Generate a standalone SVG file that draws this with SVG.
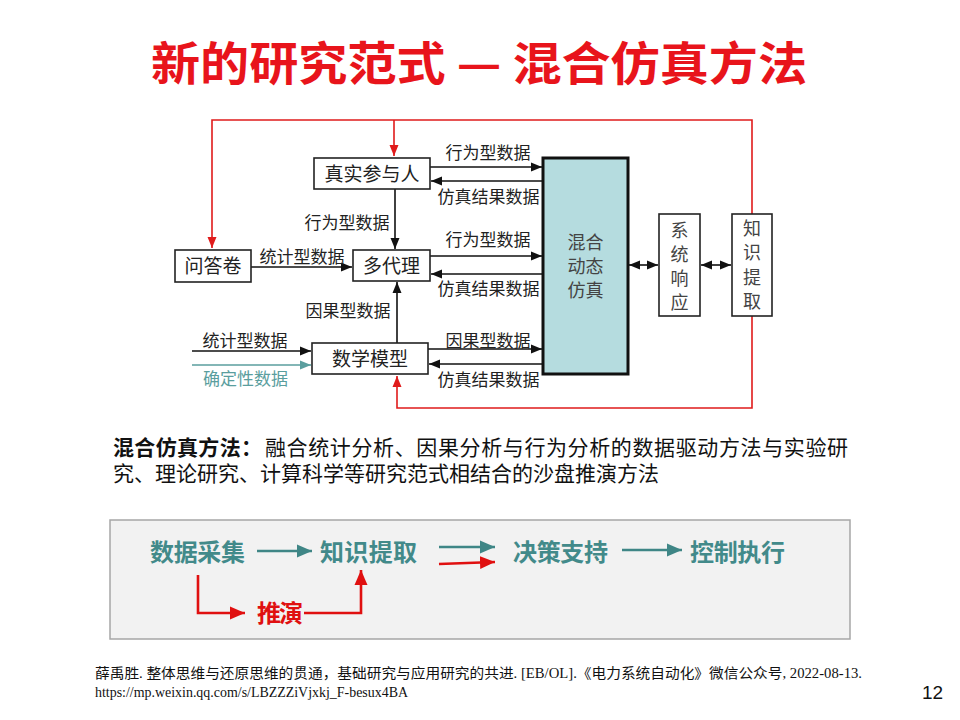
<svg xmlns="http://www.w3.org/2000/svg" width="960" height="720" viewBox="0 0 960 720">
<defs>
<marker id="ab" markerUnits="userSpaceOnUse" markerWidth="12" markerHeight="10" refX="11" refY="5" orient="auto-start-reverse"><path d="M0,0.5 L11,5 L0,9.5 Z" fill="#111"/></marker>
<marker id="ar" markerUnits="userSpaceOnUse" markerWidth="12" markerHeight="10" refX="11" refY="5" orient="auto-start-reverse"><path d="M0,0.5 L11,5 L0,9.5 Z" fill="#e01b1b"/></marker>
<marker id="at" markerUnits="userSpaceOnUse" markerWidth="12" markerHeight="10" refX="11" refY="5" orient="auto-start-reverse"><path d="M0,0.5 L11,5 L0,9.5 Z" fill="#5a9e9e"/></marker>
<marker id="at2" markerUnits="userSpaceOnUse" markerWidth="16" markerHeight="14" refX="15" refY="7" orient="auto"><path d="M0,0.5 L15,7 L0,13.5 Z" fill="#3f8686"/></marker>
<marker id="ar2" markerUnits="userSpaceOnUse" markerWidth="16" markerHeight="14" refX="15" refY="7" orient="auto"><path d="M0,0.5 L15,7 L0,13.5 Z" fill="#e01010"/></marker>
</defs>
<style>
.cjk{font-family:"Noto Sans CJK SC","Liberation Sans",sans-serif}
.box{fill:#fff;stroke:#222;stroke-width:1.6}
.bl{font-size:19px;fill:#222;text-anchor:middle}
.el{font-size:17px;fill:#222;text-anchor:middle}
.ln{fill:none;stroke:#111;stroke-width:1.6}
.red{fill:none;stroke:#e01b1b;stroke-width:1.6}
.tl{fill:none;stroke:#3f8686;stroke-width:2.6}
.rl{fill:none;stroke:#e01010;stroke-width:2.6}
.bt{font-size:24px;font-weight:700;fill:#428a8a}
.vt{font-size:18px;fill:#444;text-anchor:middle}
.ds{font-size:21px;fill:#111}
.ft{font-family:"Liberation Serif","Noto Sans CJK SC",serif;font-size:14px;fill:#111}
</style>
<rect width="960" height="720" fill="#fff"/>
<text class="cjk" x="479" y="80" font-size="46" font-weight="700" fill="#e8141b" text-anchor="middle" textLength="656" lengthAdjust="spacingAndGlyphs">新的研究范式 — 混合仿真方法</text>

<g id="connectors">
<path class="red" d="M752,214 V120 H212 V248" marker-end="url(#ar)"/>
<path class="red" d="M394,120 V156" marker-end="url(#ar)"/>
<path class="red" d="M752,316 V408 H397 V376" marker-end="url(#ar)"/>
<path class="ln" d="M430,167 H542" marker-end="url(#ab)"/>
<path class="ln" d="M543,181 H431" marker-end="url(#ab)"/>
<path class="ln" d="M395,189 V249" marker-end="url(#ab)"/>
<path class="ln" d="M251,267 H352" marker-end="url(#ab)"/>
<path class="ln" d="M430,256 H542" marker-end="url(#ab)"/>
<path class="ln" d="M543,274 H431" marker-end="url(#ab)"/>
<path class="ln" d="M397,343 V282" marker-end="url(#ab)"/>
<path class="ln" d="M192,351 H311" marker-end="url(#ab)"/>
<path d="M192,365 H311" fill="none" stroke="#5a9e9e" stroke-width="1.6" marker-end="url(#at)"/>
<path class="ln" d="M428,349 H542" marker-end="url(#ab)"/>
<path class="ln" d="M543,364 H429" marker-end="url(#ab)"/>
<path class="ln" d="M629,265 H658" marker-start="url(#ab)" marker-end="url(#ab)"/>
<path class="ln" d="M701,265 H731" marker-start="url(#ab)" marker-end="url(#ab)"/>
<g class="cjk">
<text class="el" x="488" y="158.5">行为型数据</text>
<text class="el" x="488.5" y="202.5">仿真结果数据</text>
<text class="el" x="347" y="228.5">行为型数据</text>
<text class="el" x="302" y="262.5">统计型数据</text>
<text class="el" x="488" y="245.5">行为型数据</text>
<text class="el" x="488.5" y="294.5">仿真结果数据</text>
<text class="el" x="348" y="316.5">因果型数据</text>
<text class="el" x="245" y="346.5">统计型数据</text>
<text class="el" x="245.5" y="384.5" style="fill:#5a9e9e">确定性数据</text>
<text class="el" x="488" y="346.5">因果型数据</text>
<text class="el" x="488.5" y="385.5">仿真结果数据</text>
</g>
</g>

<g id="zhenshi" class="cjk"><rect class="box" x="314" y="158" width="116" height="31"/><text class="bl" x="372" y="180.5">真实参与人</text></g>
<g id="wenjuan" class="cjk"><rect class="box" x="175" y="250" width="76" height="32"/><text class="bl" x="213" y="273">问答卷</text></g>
<g id="duodaili" class="cjk"><rect class="box" x="353" y="250" width="77" height="31"/><text class="bl" x="391.5" y="272.5">多代理</text></g>
<g id="shuxue" class="cjk"><rect class="box" x="312" y="343" width="116" height="31"/><text class="bl" x="370" y="365.5">数学模型</text></g>
<g id="hunhe" class="cjk"><rect x="543" y="158" width="85" height="216" fill="#b5dcdf" stroke="#111" stroke-width="3"/>
<text class="vt" x="585.5" y="249">混合</text><text class="vt" x="585.5" y="273">动态</text><text class="vt" x="585.5" y="297">仿真</text></g>
<g id="xitong" class="cjk"><rect class="box" x="659" y="214" width="41" height="102"/>
<text class="vt" x="679.5" y="237">系</text><text class="vt" x="679.5" y="261">统</text><text class="vt" x="679.5" y="285">响</text><text class="vt" x="679.5" y="309">应</text></g>
<g id="zhishi" class="cjk"><rect class="box" x="732" y="214" width="40" height="102"/>
<text class="vt" x="752" y="235">知</text><text class="vt" x="752" y="259">识</text><text class="vt" x="752" y="284">提</text><text class="vt" x="752" y="308">取</text></g>

<text class="cjk ds" x="113" y="455" font-weight="700" textLength="149">混合仿真方法：</text>
<text class="cjk ds" x="265" y="455" textLength="583">融合统计分析、因果分析与行为分析的数据驱动方法与实验研</text>
<text class="cjk ds" x="113" y="481" textLength="546">究、理论研究、计算科学等研究范式相结合的沙盘推演方法</text>

<g id="flow">
<rect x="110" y="520" width="740" height="119" fill="#f2f2f2" stroke="#a6a6a6" stroke-width="1.5"/>
<g class="cjk">
<text class="bt" x="150" y="561" textLength="95">数据采集</text>
<text class="bt" x="320" y="561" textLength="97">知识提取</text>
<text class="bt" x="513" y="561" textLength="95">决策支持</text>
<text class="bt" x="690" y="561" textLength="95">控制执行</text>
<text class="bt" x="257" y="622" style="fill:#e01010" textLength="46">推演</text>
</g>
<path class="tl" d="M257,551 H312" marker-end="url(#at2)"/>
<path class="tl" d="M439,547 H495" marker-end="url(#at2)"/>
<path class="rl" d="M439,564 L495,562" marker-end="url(#ar2)"/>
<path class="tl" d="M622,550 H682" marker-end="url(#at2)"/>
<path class="rl" d="M198,575 V613 H245" marker-end="url(#ar2)"/>
<path class="rl" d="M304,613 H361 V570" marker-end="url(#ar2)"/>
</g>

<text class="ft" x="95" y="678" textLength="767" lengthAdjust="spacingAndGlyphs">薛禹胜. 整体思维与还原思维的贯通，基础研究与应用研究的共进. [EB/OL].《电力系统自动化》微信公众号, 2022-08-13.</text>
<text class="ft" x="95" y="697" textLength="313" lengthAdjust="spacingAndGlyphs">https://mp.weixin.qq.com/s/LBZZZiVjxkj_F-besux4BA</text>
<text x="922" y="699" font-family="Liberation Sans, Arial, sans-serif" font-size="19" fill="#111">12</text>
</svg>
